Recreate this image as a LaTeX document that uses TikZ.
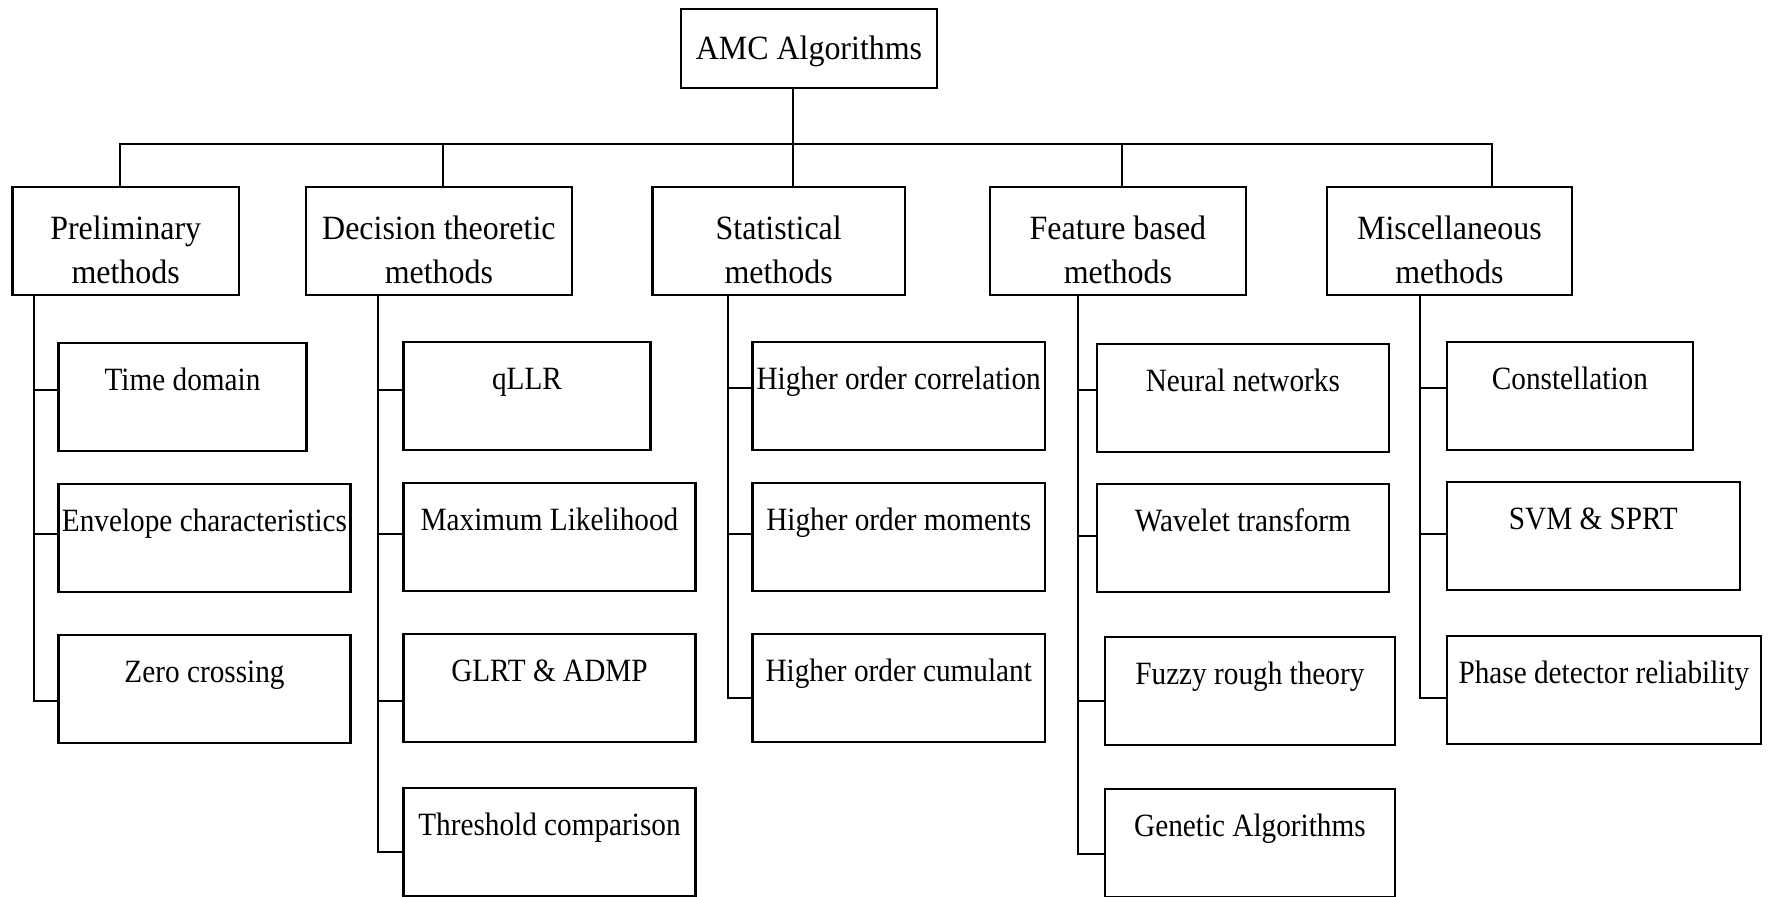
\documentclass[tikz,border=0pt]{standalone}
\usepackage{fontspec}
\setmainfont{Liberation Serif}[FakeStretch=0.94]
\newfontfamily\leaffont{Liberation Serif}[FakeStretch=0.9]
\usetikzlibrary{positioning,calc}
\newcommand{\twolines}[2]{\begin{tabular}[b]{@{}c@{}}#1\\#2\end{tabular}}

\begin{document}
\begin{tikzpicture}[
    x = 0.5pt, y = -0.5pt, % pixel grid, y runs down
    line width = 1pt, % connector lines
    box/.style = {draw, line width=1.1pt, inner sep=0pt, outer sep=0pt},
    head/.style = {box, minimum height=54pt, text height=48pt, text depth=6pt,
                   font=\fontsize{17pt}{22pt}\selectfont},
    leaf/.style = {box, minimum height=54pt, text height=23.5pt, text depth=30.5pt,
                   font=\leaffont\fontsize{16.25pt}{19.5pt}\selectfont}
    ]
    \useasboundingbox (0,0) rectangle (1768,896);

    \node[box, minimum width=128pt, minimum height=39.5pt, text height=25pt, text depth=14.5pt,
          font=\fontsize{17pt}{22pt}\selectfont, anchor=north west] (amc) at (681,9) {AMC Algorithms};

    % method groups
    \node[head, minimum width=113.2pt, anchor=north west] (prel) at (12.5,187) {\twolines{Preliminary}{methods}};
    \node[head, minimum width=133pt, right=33.5pt of prel.north east, anchor=north west] (dec) {\twolines{Decision theoretic}{methods}};
    \node[head, minimum width=126.2pt, right=40.3pt of dec.north east, anchor=north west] (stat) {\twolines{Statistical}{methods}};
    \node[head, minimum width=128pt, right=42.5pt of stat.north east, anchor=north west] (feat) {\twolines{Feature based}{methods}};
    \node[head, minimum width=122.5pt, right=40.5pt of feat.north east, anchor=north west] (misc) {\twolines{Miscellaneous}{methods}};

    % preliminary
    \node[leaf, minimum width=124pt, below right=24pt and 23pt of prel.south west] (td) {Time domain};
    \node[leaf, minimum width=146pt, below right=16.5pt and 0pt of td.south west] (ec) {Envelope characteristics};
    \node[leaf, minimum width=146pt, below right=21.5pt and 0pt of ec.south west] (zc) {Zero crossing};
    % decision theoretic
    \node[leaf, minimum width=123.5pt, below right=23.5pt and 48.8pt of dec.south west] (ql) {qLLR};
    \node[leaf, minimum width=146pt, below right=16.5pt and 0pt of ql.south west] (ml) {Maximum Likelihood};
    \node[leaf, minimum width=146pt, below right=21.5pt and 0pt of ml.south west] (gl) {GLRT \& ADMP};
    \node[leaf, minimum width=146pt, below right=23pt and 0pt of gl.south west] (tc) {Threshold comparison};
    % statistical
    \node[leaf, minimum width=146.2pt, below right=23.5pt and 50pt of stat.south west] (hcr) {Higher order correlation};
    \node[leaf, minimum width=146.2pt, below right=16.5pt and 0pt of hcr.south west] (hm) {Higher order moments};
    \node[leaf, minimum width=146.2pt, below right=21.5pt and 0pt of hm.south west] (hcu) {Higher order cumulant};
    % feature based
    \node[leaf, minimum width=146pt, below right=24.5pt and 53.5pt of feat.south west] (nn) {Neural networks};
    \node[leaf, minimum width=146pt, below right=16pt and 0pt of nn.south west] (wt) {Wavelet transform};
    \node[leaf, minimum width=145pt, below right=22.5pt and 4pt of wt.south west] (fr) {Fuzzy rough theory};
    \node[leaf, minimum width=145pt, below right=22pt and 0pt of fr.south west] (ga) {Genetic Algorithms};
    % miscellaneous
    \node[leaf, minimum width=123pt, below right=23.5pt and 60pt of misc.south west] (co) {Constellation};
    \node[leaf, minimum width=146.5pt, below right=16pt and 0pt of co.south west] (svm) {SVM \& SPRT};
    \node[leaf, minimum width=157pt, below right=23pt and 0pt of svm.south west] (pd) {Phase detector reliability};

    % tree from the root
    \coordinate (bus) at ($(amc.south)!0.57!(stat.north)$);
    \foreach \n/\dx in {prel/-5.7, dec/3.7, stat/14.3, feat/4.1, misc/42.6}
        \coordinate (\n-top) at ($(\n.north)+(\dx,0)$);
    \draw (prel-top) |- (bus -| misc-top) -- (misc-top);
    \draw (amc.south -| stat-top) -- (stat-top);
    \foreach \n in {dec, feat}
        \draw (\n-top) -- (\n-top |- bus);

    % side bars to the leaves
    \foreach \n/\dx in {prel/21.5, dec/71.8, stat/75.5, feat/87.7, misc/93.1}
        \coordinate (\n-bar) at ($(\n.south west)+(\dx,0)$);
    \foreach \n/\c/\dy in {prel/td/-7, prel/ec/-4, prel/zc/12, dec/ql/-6, dec/ml/-3, dec/gl/13, dec/tc/10,
                           stat/hcr/-8, stat/hm/-3, stat/hcu/10, feat/nn/-8, feat/wt/-2, feat/fr/10, feat/ga/11,
                           misc/co/-8, misc/svm/-2, misc/pd/8}
        \draw (\n-bar) |- ($(\c.west)+(0,\dy)$);
\end{tikzpicture}
\end{document}
